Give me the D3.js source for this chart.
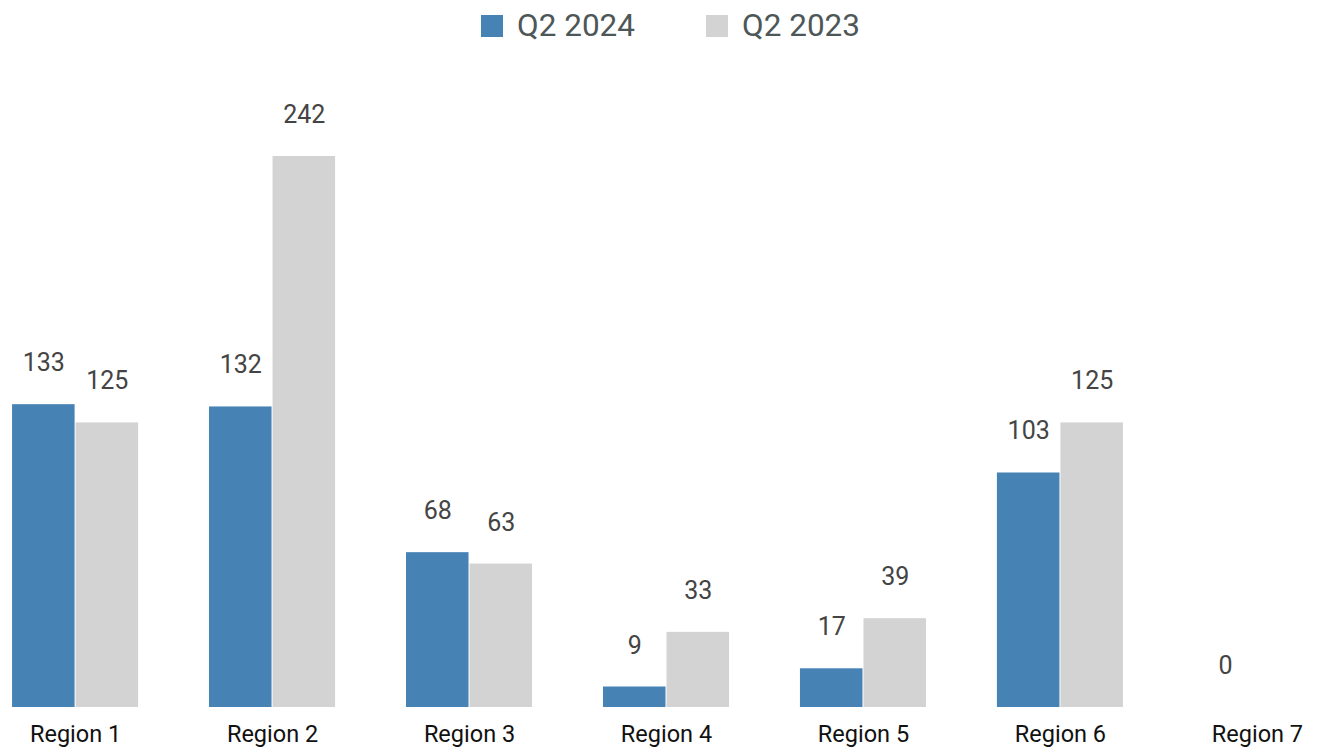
<!DOCTYPE html>
<html>
<head>
<meta charset="utf-8">
<script src="https://cdn.jsdelivr.net/npm/d3@7"></script>
<style>
  body { margin: 0; background: #fff; }
  text { font-family: Roboto, "Noto Sans", sans-serif; }
</style>
</head>
<body>
<svg width="1317" height="749"></svg>
<script>
var regions = ["Region 1", "Region 2", "Region 3", "Region 4", "Region 5", "Region 6", "Region 7"];
var seriesNames = ["Q2 2024", "Q2 2023"];
var q2024 = [133, 132, 68, 9, 17, 103, 0];
var q2023 = [125, 242, 63, 33, 39, 125, null];
var colors = ["#4682b4", "#d3d3d3"];

var svg = d3.select("svg"),
    width = +svg.attr("width"),
    height = +svg.attr("height");

var data = regions.map(function(r, i) {
  return {region: r, values: [
    {key: seriesNames[0], value: q2024[i]},
    {key: seriesNames[1], value: q2023[i]}
  ]};
});

var baseY = 707;

var x0 = d3.scaleBand()
    .domain(regions)
    .range([-23, 1356])
    .paddingInner(0.355)
    .paddingOuter(0.178);

var x1 = d3.scaleBand()
    .domain(seriesNames)
    .range([0, x0.bandwidth()]);

var y = d3.scaleLinear()
    .domain([0, d3.max(q2023.concat(q2024))])
    .range([baseY, 156]);

var color = d3.scaleOrdinal().domain(seriesNames).range(colors);

var groups = svg.append("g").selectAll("g")
    .data(data)
    .enter().append("g")
    .attr("transform", function(d) { return "translate(" + x0(d.region) + ",0)"; });

groups.selectAll("rect")
    .data(function(d) { return d.values.filter(function(v) { return v.value != null && v.value > 0; }); })
    .enter().append("rect")
    .attr("x", function(d) { return x1(d.key); })
    .attr("width", x1.bandwidth() - 1)
    .attr("y", function(d) { return y(d.value); })
    .attr("height", function(d) { return baseY - y(d.value); })
    .attr("fill", function(d) { return color(d.key); });

groups.selectAll("text.val")
    .data(function(d) { return d.values.filter(function(v) { return v.value != null; }); })
    .enter().append("text")
    .attr("class", "val")
    .attr("x", function(d) { return x1(d.key) + x1.bandwidth() / 2; })
    .attr("y", function(d) { return y(d.value) - 33; })
    .attr("text-anchor", "middle")
    .attr("font-size", "25px")
    .attr("fill", "#444")
    .text(function(d) { return d.value; });

// category axis
var xAxis = svg.append("g")
    .attr("transform", "translate(0," + baseY + ")")
    .call(d3.axisBottom(x0).tickSize(0).tickPadding(18));
xAxis.select(".domain").remove();
xAxis.selectAll("text")
    .attr("font-size", "23.5px")
    .attr("fill", "#111")
    .style("font-family", "Roboto, sans-serif");

// legend
var legendX = [481, 706];
var legend = svg.append("g").selectAll("g")
    .data(seriesNames)
    .enter().append("g")
    .attr("transform", function(d, i) { return "translate(" + legendX[i] + ",15)"; });
legend.append("rect")
    .attr("width", 22)
    .attr("height", 22)
    .attr("fill", function(d) { return color(d); });
legend.append("text")
    .attr("x", 36)
    .attr("y", 21)
    .attr("font-size", "31.5px")
    .attr("fill", "#4e5757")
    .text(function(d) { return d; });
</script>
</body>
</html>
